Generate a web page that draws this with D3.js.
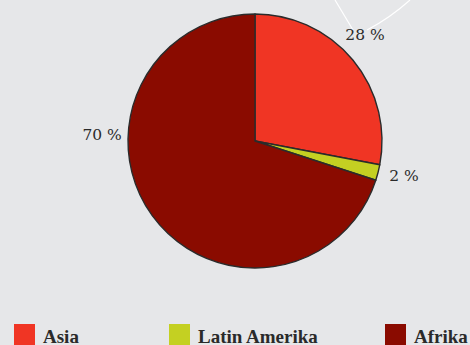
<!DOCTYPE html>
<html>
<head>
<meta charset="utf-8">
<script src="https://cdn.jsdelivr.net/npm/d3@7"></script>
<style>
  html, body { margin: 0; padding: 0; background: #e6e7e9; }
  svg { display: block; }
</style>
</head>
<body>
<svg id="chart" width="470" height="345"></svg>
<script>
// Regions and their shares (percent)
const regions = ["Asia", "Latin Amerika", "Afrika"];
const shares = [28, 2, 70];
const colors = ["#f03524", "#c4d022", "#8a0b00"];
// Angle (degrees, clockwise from top) where each percentage label sits
const labelAngles = [46, 103, 272.6];

const width = 470, height = 345;
const cx = 255, cy = 141, radius = 127;

const svg = d3.select("#chart");

svg.append("rect")
  .attr("width", width).attr("height", height)
  .attr("fill", "#e6e7e9");

// Thin white connector lines entering from the top edge
svg.append("path")
  .attr("d", "M335,0 Q344,15 353,30")
  .attr("fill", "none").attr("stroke", "#ffffff").attr("stroke-width", 1.2);
svg.append("path")
  .attr("d", "M410,0 Q390,18 367,30")
  .attr("fill", "none").attr("stroke", "#ffffff").attr("stroke-width", 1.2);

const data = regions.map((r, i) => ({ region: r, value: shares[i], color: colors[i], labelAngle: labelAngles[i] }));

const pie = d3.pie().value(d => d.value).sort(null);
const arc = d3.arc().innerRadius(0).outerRadius(radius);

const g = svg.append("g").attr("transform", `translate(${cx},${cy})`);

g.selectAll("path.slice")
  .data(pie(data))
  .join("path")
  .attr("class", "slice")
  .attr("d", arc)
  .attr("fill", d => d.data.color)
  .attr("stroke", "#2b2b2b")
  .attr("stroke-width", 1.4)
  .attr("stroke-linejoin", "round");

// Percentage labels outside the pie
const labelRadius = 153;
g.selectAll("text.pct")
  .data(pie(data))
  .join("text")
  .attr("class", "pct")
  .attr("x", d => labelRadius * Math.sin(d.data.labelAngle * Math.PI / 180))
  .attr("y", d => -labelRadius * Math.cos(d.data.labelAngle * Math.PI / 180))
  .attr("dy", "0.35em")
  .attr("text-anchor", "middle")
  .attr("font-family", "'DejaVu Serif', serif")
  .attr("font-size", 15.5)
  .attr("fill", "#2a2a2a")
  .text(d => `${d.data.value} %`);

// Legend along the bottom edge
const legendX = d3.scaleOrdinal().domain(regions).range([14, 169, 385]);
const legend = svg.append("g");
const items = legend.selectAll("g")
  .data(data)
  .join("g")
  .attr("transform", d => `translate(${legendX(d.region)},324)`);

items.append("rect")
  .attr("width", 21).attr("height", 21)
  .attr("fill", d => d.color);

items.append("text")
  .attr("x", 29)
  .attr("y", 19)
  .attr("font-family", "'Liberation Serif', serif")
  .attr("font-weight", "bold")
  .attr("font-size", 19)
  .attr("fill", "#2a2a2a")
  .text(d => d.region);
</script>
</body>
</html>
